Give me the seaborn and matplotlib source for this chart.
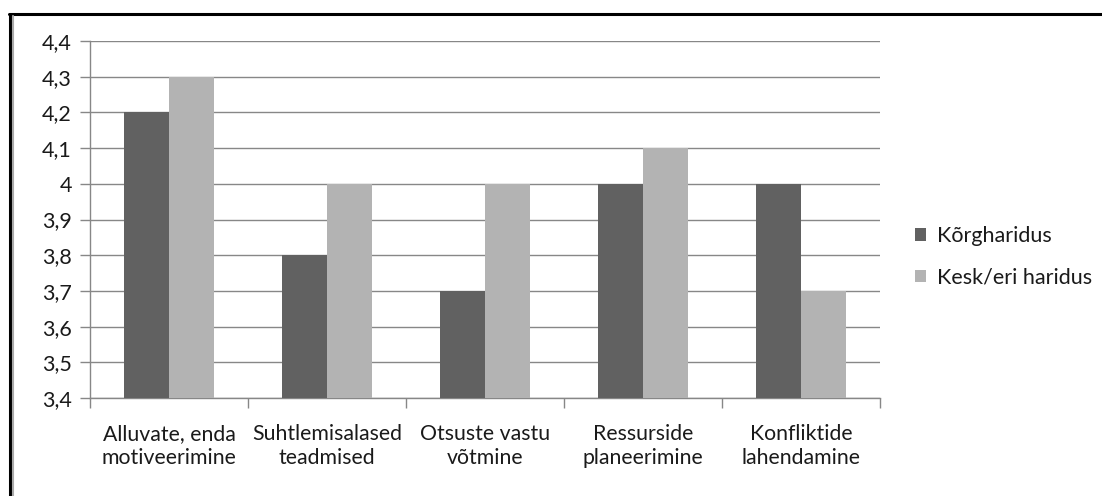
import matplotlib
matplotlib.use("Agg")
import matplotlib.pyplot as plt
from matplotlib.lines import Line2D
from matplotlib.ticker import FixedLocator, NullFormatter
import seaborn as sns
import pandas as pd

categories = [
    "Alluvate, enda\nmotiveerimine",
    "Suhtlemisalased\nteadmised",
    "Otsuste vastu\nvõtmine",
    "Ressurside\nplaneerimine",
    "Konfliktide\nlahendamine",
]
series_names = ["Kõrgharidus", "Kesk/eri haridus"]
korgharidus = [4.2, 3.8, 3.7, 4.0, 4.0]
kesk_eri = [4.3, 4.0, 4.0, 4.1, 3.7]
y_ticks = [3.4, 3.5, 3.6, 3.7, 3.8, 3.9, 4.0, 4.1, 4.2, 4.3, 4.4]

df = pd.DataFrame({
    "kategooria": categories * 2,
    "haridus": [series_names[0]] * len(categories) + [series_names[1]] * len(categories),
    "väärtus": korgharidus + kesk_eri,
})

sns.set_theme(style="white")
plt.rcParams["font.family"] = ["Lato", "DejaVu Sans"]

fig = plt.figure(figsize=(11.02, 4.96), dpi=100)
ax = fig.add_axes([0.0817, 0.1976, 0.7168, 0.7197])

palette = {series_names[0]: "#616161", series_names[1]: "#b3b3b3"}
sns.barplot(data=df, x="kategooria", y="väärtus", hue="haridus", palette=palette,
            width=0.57, ax=ax, saturation=1, legend=True, zorder=3,
            linewidth=0, edgecolor="none")

ax.set_ylim(3.4, 4.4)
ax.set_xlim(-0.5, len(categories) - 0.5)
ax.set_yticks(y_ticks)
ax.set_yticklabels([f"{v:g}".replace(".", ",") for v in y_ticks], fontsize=15.5, color="#1a1a1a")
ax.yaxis.grid(True, color="#878787", linewidth=1.0, zorder=0)
ax.set_axisbelow(True)
ax.set_xlabel("")
ax.set_ylabel("")

# category labels between boundary tick marks
ax.set_xticks(range(len(categories)))
ax.set_xticklabels(categories, fontsize=15.3, color="#1a1a1a", linespacing=1.25)
ax.tick_params(axis="x", length=0, pad=19)
ax.xaxis.set_minor_locator(FixedLocator([i - 0.5 for i in range(len(categories) + 1)]))
ax.xaxis.set_minor_formatter(NullFormatter())
ax.tick_params(axis="x", which="minor", length=7, width=1, color="#878787", direction="out", bottom=True)
ax.tick_params(axis="y", length=7, width=1, color="#878787", direction="out", left=True, pad=6)

for side in ["top", "right"]:
    ax.spines[side].set_visible(False)
for side in ["left", "bottom"]:
    ax.spines[side].set_color("#878787")
    ax.spines[side].set_linewidth(1.0)

leg = ax.legend(loc="center left", bbox_to_anchor=(1.045, 0.395), frameon=False,
                fontsize=15.5, handlelength=0.5, handleheight=0.5, handletextpad=0.5,
                labelspacing=1.0, borderpad=0, borderaxespad=0)
for t in leg.get_texts():
    t.set_color("#1a1a1a")

# outer frame: top and left edges, with a thin grey inner line on the left
W, H = 1102, 496
fig.add_artist(Line2D([9 / W, 1.0], [1 - 14 / H, 1 - 14 / H], color="black", linewidth=2.2,
                      transform=fig.transFigure))
fig.add_artist(Line2D([10 / W, 10 / W], [0, 1 - 14 / H], color="black", linewidth=2.2,
                      transform=fig.transFigure))
fig.add_artist(Line2D([13 / W, 13 / W], [0, 1 - 16 / H], color="#aaaaaa", linewidth=1.5,
                      transform=fig.transFigure))

fig.savefig("out.png", dpi=100)
